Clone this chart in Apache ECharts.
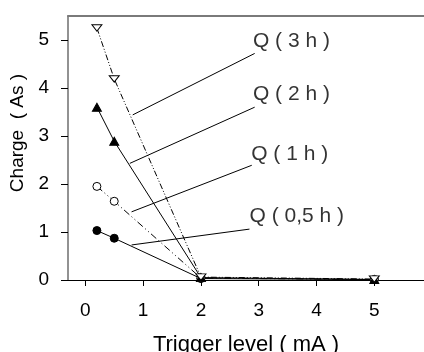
<!DOCTYPE html>
<html>
<head>
<meta charset="utf-8">
<script src="https://cdn.jsdelivr.net/npm/echarts@6/dist/echarts.min.js"></script>
<style>html,body{margin:0;padding:0;background:#fff;}#c{width:424px;height:352px;}</style>
</head>
<body>
<div id="c"></div>
<script>
// Data
const triggerLevels = [0.2, 0.5, 2, 5];            // mA
const q05h = [1.03, 0.87, 0.03, 0.01];             // As
const q1h  = [1.95, 1.64, 0.04, 0.01];
const q2h  = [3.60, 2.89, 0.05, 0.01];
const q3h  = [5.25, 4.19, 0.06, 0.02];
const seriesNames = ['Q ( 0,5 h )', 'Q ( 1 h )', 'Q ( 2 h )', 'Q ( 3 h )'];
const xTicks = [0, 1, 2, 3, 4, 5];
const yTicks = [0, 1, 2, 3, 4, 5];

const pairs = v => triggerLevels.map((x, i) => [x, v[i]]);

// annotation placement (data coordinates)
const labelAnchors = [[2.84, 1.32], [2.87, 2.63], [2.9, 3.88], [2.9, 4.98]];
const calloutLines = [
  [[0.80, 0.73], [2.84, 1.06]],
  [[0.80, 1.42], [2.88, 2.39]],
  [[0.77, 2.43], [2.93, 3.60]],
  [[0.82, 3.44], [2.93, 4.72]]
];

const FONT = 'Liberation Sans, Arial, sans-serif';
const chart = echarts.init(document.getElementById('c'), null, {renderer: 'canvas'});
const lineBase = {type: 'line', symbolKeepAspect: true, z: 3};
chart.setOption({
  animation: false,
  backgroundColor: '#fff',
  grid: {left: 68, right: 0, top: 16, bottom: 72, containLabel: false, outerBoundsMode: 'none'},
  xAxis: [{
    type: 'value', min: -0.3, max: 5.86,
    name: 'Trigger level ( mA )', nameLocation: 'middle', nameGap: 54,
    nameTextStyle: {fontFamily: FONT, fontSize: 22, color: '#000'},
    axisLine: {show: true, onZero: false, lineStyle: {color: '#000', width: 1}},
    axisTick: {show: true, length: 6, customValues: xTicks, lineStyle: {color: '#000'}},
    axisLabel: {show: true, margin: 21, customValues: xTicks, fontFamily: FONT, fontSize: 19, color: '#000'},
    splitLine: {show: false}
  }, {
    type: 'value', min: -0.3, max: 5.86, position: 'top',
    axisLine: {show: true, onZero: false, lineStyle: {color: '#7a7a7a', width: 2}},
    axisTick: {show: false}, axisLabel: {show: false}, splitLine: {show: false}
  }],
  yAxis: {
    type: 'value', min: 0, max: 5.5,
    name: 'Charge  ( As )', nameLocation: 'middle', nameGap: 33, nameRotate: 90,
    nameTextStyle: {fontFamily: FONT, fontSize: 19, color: '#000', padding: [0, 0, 0, 30]},
    axisLine: {show: true, onZero: false, lineStyle: {color: '#6e6e6e', width: 1.5}},
    axisTick: {show: true, length: 7, customValues: yTicks, lineStyle: {color: '#000'}},
    axisLabel: {show: true, margin: 19, customValues: yTicks, fontFamily: FONT, fontSize: 19, color: '#000'},
    splitLine: {show: false}
  },
  series: [
    Object.assign({}, lineBase, {
      name: seriesNames[0], data: pairs(q05h), symbol: 'circle', symbolSize: 8,
      lineStyle: {color: '#000', width: 1},
      itemStyle: {color: '#000', borderColor: '#000', borderWidth: 1}
    }),
    Object.assign({}, lineBase, {
      name: seriesNames[1], data: pairs(q1h), symbol: 'circle', symbolSize: 8,
      lineStyle: {color: '#000', width: 1, type: [7, 3, 1, 3, 1, 3]},
      itemStyle: {color: '#fff', borderColor: '#000', borderWidth: 1}
    }),
    Object.assign({}, lineBase, {
      name: seriesNames[2], data: pairs(q2h), symbol: 'triangle', symbolSize: [9, 8],
      lineStyle: {color: '#000', width: 1},
      itemStyle: {color: '#000', borderColor: '#000', borderWidth: 1}
    }),
    Object.assign({}, lineBase, {
      name: seriesNames[3], data: pairs(q3h), symbol: 'path://M0,0L10,0L5,8Z', symbolSize: [10, 8],
      lineStyle: {color: '#000', width: 1, type: [6, 2, 1, 2, 1, 2]},
      itemStyle: {color: '#fff', borderColor: '#000', borderWidth: 1}
    }),
    {
      type: 'scatter', name: 'labels', symbolSize: 0, silent: true, z: 4,
      data: labelAnchors.map((p, i) => ({value: p, name: seriesNames[i]})),
      label: {show: true, position: 'right', distance: 0, formatter: p => p.name,
              fontFamily: FONT, fontSize: 21, color: '#000'},
      markLine: {
        silent: true, symbol: ['none', 'none'], label: {show: false},
        lineStyle: {color: '#000', width: 1, type: 'solid'},
        data: calloutLines.map(l => [{coord: l[0]}, {coord: l[1]}])
      }
    }
  ]
});
</script>
</body>
</html>
